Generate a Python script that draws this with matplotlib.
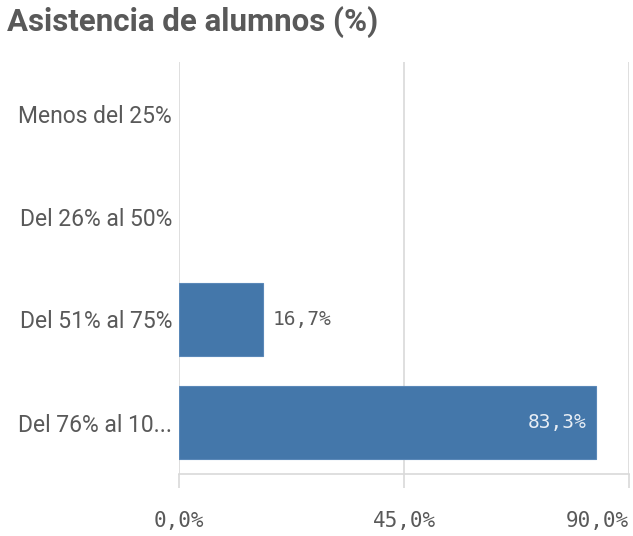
import matplotlib.pyplot as plt
import numpy as np

categories = ["Menos del 25%", "Del 26% al 50%", "Del 51% al 75%", "Del 76% al 10..."]
values = [0.0, 0.0, 16.7, 83.3]
xticks = [0, 45, 90]

grey = "#595959"
blue = "#4477aa"

fig = plt.figure(figsize=(6.33, 5.36), dpi=100)
ax = fig.add_axes([179 / 633, 62 / 536, 450 / 633, 412 / 536])

y = np.arange(len(categories))
# empty categories get no bar (avoids a hairline edge at zero)
for yi, v in zip(y, values):
    if v > 0:
        ax.barh(yi, v, height=0.7, color=blue, edgecolor="#5a88b8", linewidth=0.8, zorder=3)

ax.set_xlim(0, 90)
ax.set_ylim(len(categories) - 0.5, -0.5)

ax.set_yticks(y)
ax.set_yticklabels(categories, family="Roboto", fontsize=16.5, color=grey)
ax.tick_params(axis="y", length=0, pad=5)

ax.set_xticks(xticks)
ax.set_xticklabels([f"{t:.1f}%".replace(".", ",") for t in xticks],
                   family="DejaVu Sans Mono", fontsize=15, color=grey)
ax.tick_params(axis="x", length=10, width=1.2, color="#d9d9d9", pad=17)
ax.get_xticklabels()[-1].set_horizontalalignment("right")

ax.grid(axis="x", color="#d9d9d9", linewidth=1.2, zorder=0)
for s in ["top", "right", "left"]:
    ax.spines[s].set_visible(False)
ax.spines["bottom"].set_color("#d9d9d9")
ax.spines["bottom"].set_linewidth(1.2)

# value labels: outside short bars, inside long ones
for yi, v in zip(y, values):
    if v <= 0:
        continue
    txt = f"{v:.1f}%".replace(".", ",")
    if v > 40:
        ax.text(v - 1.8, yi, txt, ha="right", va="center", family="DejaVu Sans Mono",
                fontsize=14, color="#e8eef5", zorder=4)
    else:
        ax.text(v + 2, yi, txt, ha="left", va="center", family="DejaVu Sans Mono",
                fontsize=14, color=grey, zorder=4)

fig.text(7 / 633, 1 - 22 / 536, "Asistencia de alumnos (%)", ha="left", va="center",
         family="Roboto", fontweight="bold", fontsize=22.5, color=grey)

fig.savefig("out.png", dpi=100)
